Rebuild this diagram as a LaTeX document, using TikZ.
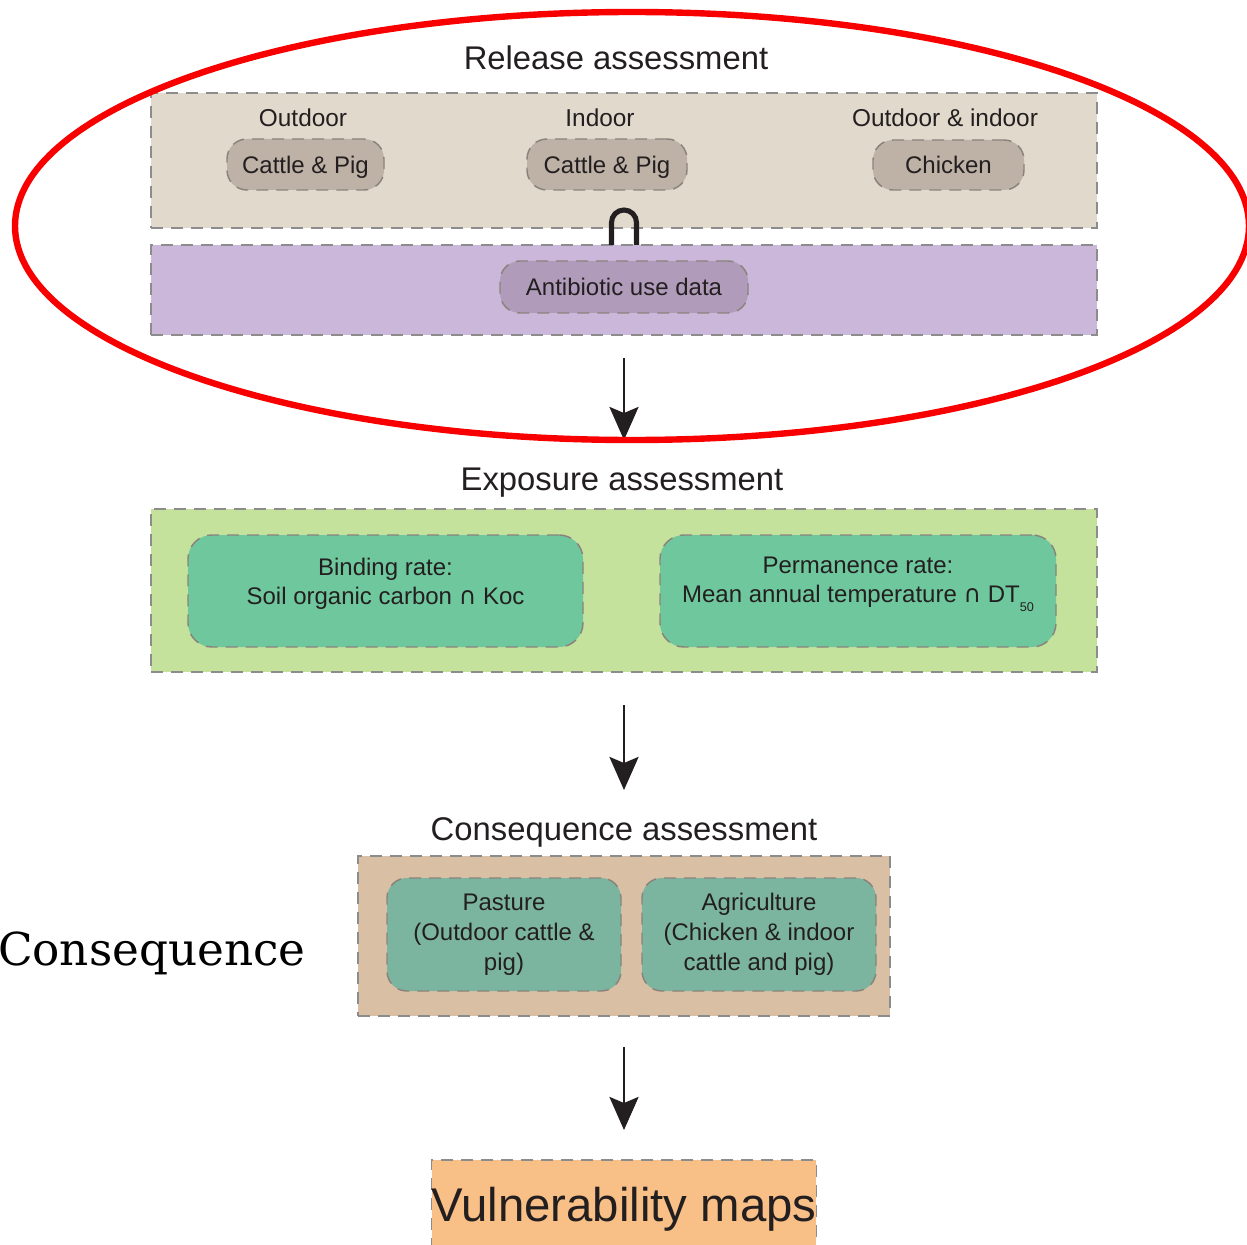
\documentclass[tikz,border=0pt]{standalone}
\usepackage{fontspec}
\setmainfont{Liberation Sans}
\newfontfamily\serifC{DejaVu Serif}
\newfontfamily\dvs{DejaVu Sans}
\usetikzlibrary{arrows.meta,calc}
\definecolor{txtc}{HTML}{231F20}
\definecolor{dashc}{HTML}{8C8C8C}
\definecolor{pilldash}{HTML}{8A837C}
\definecolor{beigebg}{HTML}{E0D9CC}
\definecolor{pillbg}{HTML}{BEB1A5}
\definecolor{purplebg}{HTML}{CBB7D9}
\definecolor{purplepill}{HTML}{B19BBA}
\definecolor{greenbg}{HTML}{C5E29D}
\definecolor{greenbox}{HTML}{6FC79D}
\definecolor{tanbg}{HTML}{D9BFA3}
\definecolor{tealbox}{HTML}{7BB5A0}
\definecolor{orangebg}{HTML}{F8BF86}
\definecolor{redring}{HTML}{F80000}
\newcommand{\capint}{{\dvs\char"2229}}
\begin{document}
\begin{tikzpicture}[x=0.75pt,y=-0.75pt,
  panel/.style={draw=dashc, line width=1.1pt, dash pattern=on 9pt off 6pt,
    inner sep=0pt, outer sep=0pt, rectangle},
  pill/.style={draw=pilldash, line width=1.1pt, dash pattern=on 9pt off 6pt,
    rounded corners=15pt, inner sep=0pt, outer sep=0pt, text=txtc,
    font=\fontsize{18}{22}\selectfont, text height=12.8pt, text depth=0pt},
  inbox/.style={draw=pilldash, line width=1.1pt, dash pattern=on 9pt off 6pt,
    inner sep=0pt, outer sep=0pt, text=txtc, align=center},
  heading/.style={text=txtc, inner sep=0pt, anchor=base,
    font=\fontsize{24.6}{28}\selectfont},
  sublabel/.style={text=txtc, inner sep=0pt, anchor=base,
    font=\fontsize{18.3}{22}\selectfont},
  intext/.style={text=txtc, inner sep=0pt, align=center,
    font=\fontsize{18}{21.75}\selectfont},
  flow/.style={draw=txtc, line width=2.2pt,
    -{Stealth[length=24.75pt, width=21.75pt, inset=4.5pt]}},
  archline/.style={draw=txtc, line width=3.8pt},
  ring/.style={draw=redring, line width=4.8pt}
]
\useasboundingbox (0,0) rectangle (1247,1245);

% ---------- Release assessment ----------
\node[heading] (relT) at (616,70) {Release assessment};
\node[panel, fill=beigebg, minimum width=709.5pt, minimum height=101.25pt] (beige) at (624,160.5) {};
\node[sublabel] (outL) at (303,127) {Outdoor};
\node[sublabel] (inL) at (600,127) {Indoor};
\node[sublabel] (bothL) at (945,127) {Outdoor \& indoor};
\node[pill, fill=pillbg, minimum width=117.75pt, minimum height=38.25pt] (cp1) at (305.5,164.5) {Cattle \& Pig};
\node[pill, fill=pillbg, minimum width=120pt, minimum height=38.25pt] (cp2) at (607,164.5) {Cattle \& Pig};
\node[pill, fill=pillbg, minimum width=113.25pt, minimum height=37.5pt] (chk) at (948.5,165) {Chicken};

\node[panel, fill=purplebg, minimum width=709.5pt, minimum height=67.5pt] (purple) at (624,290) {};
\node[pill, fill=purplepill, minimum width=186pt, minimum height=39pt] (abx) at (624,287) {Antibiotic use data};

\draw[archline] ($(purple.north)+(-12.5,0)$) -- ++(0,-22.5)
   arc[start angle=180, end angle=360, radius=12.5] -- ++(0,22.5);

% ---------- Exposure assessment ----------
\node[heading] (expT) at (622,490) {Exposure assessment};
\node[panel, fill=greenbg, minimum width=709.5pt, minimum height=122.25pt] (green) at (624,590.5) {};
\node[inbox, fill=greenbox, rounded corners=18pt, minimum width=296.25pt, minimum height=84pt] (bind) at (385.5,591) {};
\node[inbox, fill=greenbox, rounded corners=18pt, minimum width=297pt, minimum height=84pt] (perm) at (858,591) {};
\node[intext] (bindT) at (385.5,584) {Binding rate:\\Soil organic carbon \capint{} Koc};
\node[intext] (permT) at (858,584.5) {Permanence rate:\\Mean annual temperature \capint{} DT\raisebox{-6.5pt}{\fontsize{9.5}{10}\selectfont 50}};

% ---------- Consequence assessment ----------
\node[heading] (conT) at (624,840) {Consequence assessment};
\node[panel, fill=tanbg, minimum width=399pt, minimum height=120pt] (tan) at (624,936) {};
\node[inbox, fill=tealbox, rounded corners=15pt, minimum width=175.5pt, minimum height=84.75pt,
  font=\fontsize{18}{22.5}\selectfont] (past) at (504,934.5) {Pasture\\(Outdoor cattle \&\\pig)};
\node[inbox, fill=tealbox, rounded corners=15pt, minimum width=175.5pt, minimum height=84.75pt,
  font=\fontsize{18}{22.5}\selectfont] (agri) at (759,934.5) {Agriculture\\(Chicken \& indoor\\cattle and pig)};
\node[text=black, inner sep=0pt, anchor=base east, font=\serifC\fontsize{34}{40}\selectfont] (conseq) at (306,965) {Consequence};

% ---------- Vulnerability maps ----------
\node[panel, fill=orangebg, text=txtc, inner xsep=0pt, minimum width=285pt,
  text height=45.75pt, text depth=23.25pt, font=\fontsize{35.5}{40}\selectfont] (vuln) at (624,1206) {Vulnerability maps};

% ---------- connectors ----------
\draw[flow, shorten <=17.25pt, shorten >=51.75pt] (purple.south) -- (green.north);
\draw[flow, shorten <=24.75pt, shorten >=49.5pt] (green.south) -- (tan.north);
\draw[flow, shorten <=23.25pt, shorten >=22.5pt] (tan.south) -- (vuln.north);

% ---------- highlight ring ----------
\draw[ring] (632,226) ellipse [x radius=617, y radius=214];
\end{tikzpicture}
\end{document}
